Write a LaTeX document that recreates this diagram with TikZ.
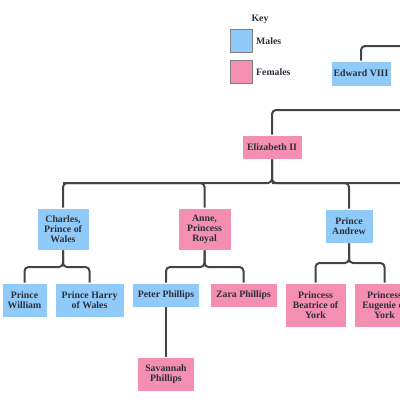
\documentclass[tikz,border=0pt]{standalone}
\usepackage{fontspec}
\setmainfont{Liberation Serif}
\usepackage{tikz}

\definecolor{maleblue}{HTML}{90CAF9}
\definecolor{femalepink}{HTML}{F48FB1}
\definecolor{linegray}{HTML}{444444}
\definecolor{textdark}{HTML}{2E2E3A}

\tikzset{
    person/.style={rectangle, draw=white, line width=0.6pt, align=center,
        inner sep=1pt, text=textdark,
        font=\fontsize{9.8}{9.9}\selectfont\bfseries},
    male/.style={person, fill=maleblue},
    female/.style={person, fill=femalepink},
    swatch/.style={rectangle, draw=gray, line width=1pt, minimum width=22pt, minimum height=23pt},
    keytext/.style={text=textdark, font=\fontsize{9.8}{10}\selectfont\bfseries, anchor=west, inner sep=0pt},
    link/.style={draw=linegray, line width=2pt, rounded corners=4pt}
}

\begin{document}
\begin{tikzpicture}[x=1pt, y=-1pt]
        \useasboundingbox (0,0) rectangle (400,400);
        \clip (0,0) rectangle (400,400);

        % Key
        \node[keytext, anchor=center] (key) at (260,19) {Key};
        \node[swatch, fill=maleblue] (keymale) at (241,40.5) {};
        \node[swatch, fill=femalepink] (keyfemale) at (241,71.5) {};
        \node[keytext] (keymaletext) at (256,41) {Males};
        \node[keytext] (keyfemaletext) at (256,72) {Females};

        % Define nodes
        \node[male, minimum width=60pt, minimum height=25pt] (edward) at (361,73.5) {Edward VIII};
        \node[female, minimum width=60pt, minimum height=24pt] (elizabeth) at (272,147) {Elizabeth II};

        \node[male, minimum width=52pt, minimum height=42pt] (charles) at (63,229) {Charles,\\Prince of\\Wales};
        \node[female, minimum width=53pt, minimum height=42pt] (anne) at (204.5,229) {Anne,\\Princess\\Royal};
        \node[male, minimum width=48pt, minimum height=34pt] (andrew) at (349,226) {Prince\\Andrew};

        \node[male, minimum width=45pt, minimum height=34pt] (william) at (24.5,300) {Prince\\William};
        \node[male, minimum width=69pt, minimum height=34pt] (harry) at (89.5,300) {Prince Harry\\of Wales};
        \node[male, minimum width=67pt, minimum height=24pt] (peter) at (166,295) {Peter Phillips};
        \node[female, minimum width=67pt, minimum height=24pt] (zara) at (243.5,295) {Zara Phillips};
        \node[female, minimum width=61pt, minimum height=44pt] (beatrice) at (315.5,305) {Princess\\Beatrice of\\York};
        \node[female, minimum width=61pt, minimum height=44pt] (eugenie) at (384.5,305) {Princess\\Eugenie of\\York};

        \node[female, minimum width=57pt, minimum height=34pt] (savannah) at (166,374) {Savannah\\Phillips};

        % Junctions and ends
        \coordinate (edwardend) at (412,46);
        \coordinate (elizabethend) at (412,110);
        \coordinate (elizabethj) at (272,183);
        \coordinate (siblingsend) at (412,183);
        \coordinate (charlesj) at (63,267);
        \coordinate (annej) at (204.5,267);
        \coordinate (andrewj) at (349,263);

        % Draw mappings
        \draw[link] (edward.north) |- (edwardend);
        \draw[link] (elizabeth.north) |- (elizabethend);

        \draw[link] (elizabeth.south) -- (elizabethj) -| (charles.north);
        \draw[link] (elizabeth.south) -- (elizabethj) -- (siblingsend);
        \draw[link] (charles.north |- elizabethj) -| (anne.north);
        \draw[link] (elizabethj) -| (andrew.north);

        \draw[link] (charles.south) -- (charlesj) -| (william.north);
        \draw[link] (charles.south) -- (charlesj) -| (harry.north);

        \draw[link] (anne.south) -- (annej) -| (peter.north);
        \draw[link] (anne.south) -- (annej) -| (zara.north);
        \draw[link] (peter.south) -- (savannah.north);

        \draw[link] (andrew.south) -- (andrewj) -| (beatrice.north);
        \draw[link] (andrew.south) -- (andrewj) -| (eugenie.north);
    \end{tikzpicture}
\end{document}
